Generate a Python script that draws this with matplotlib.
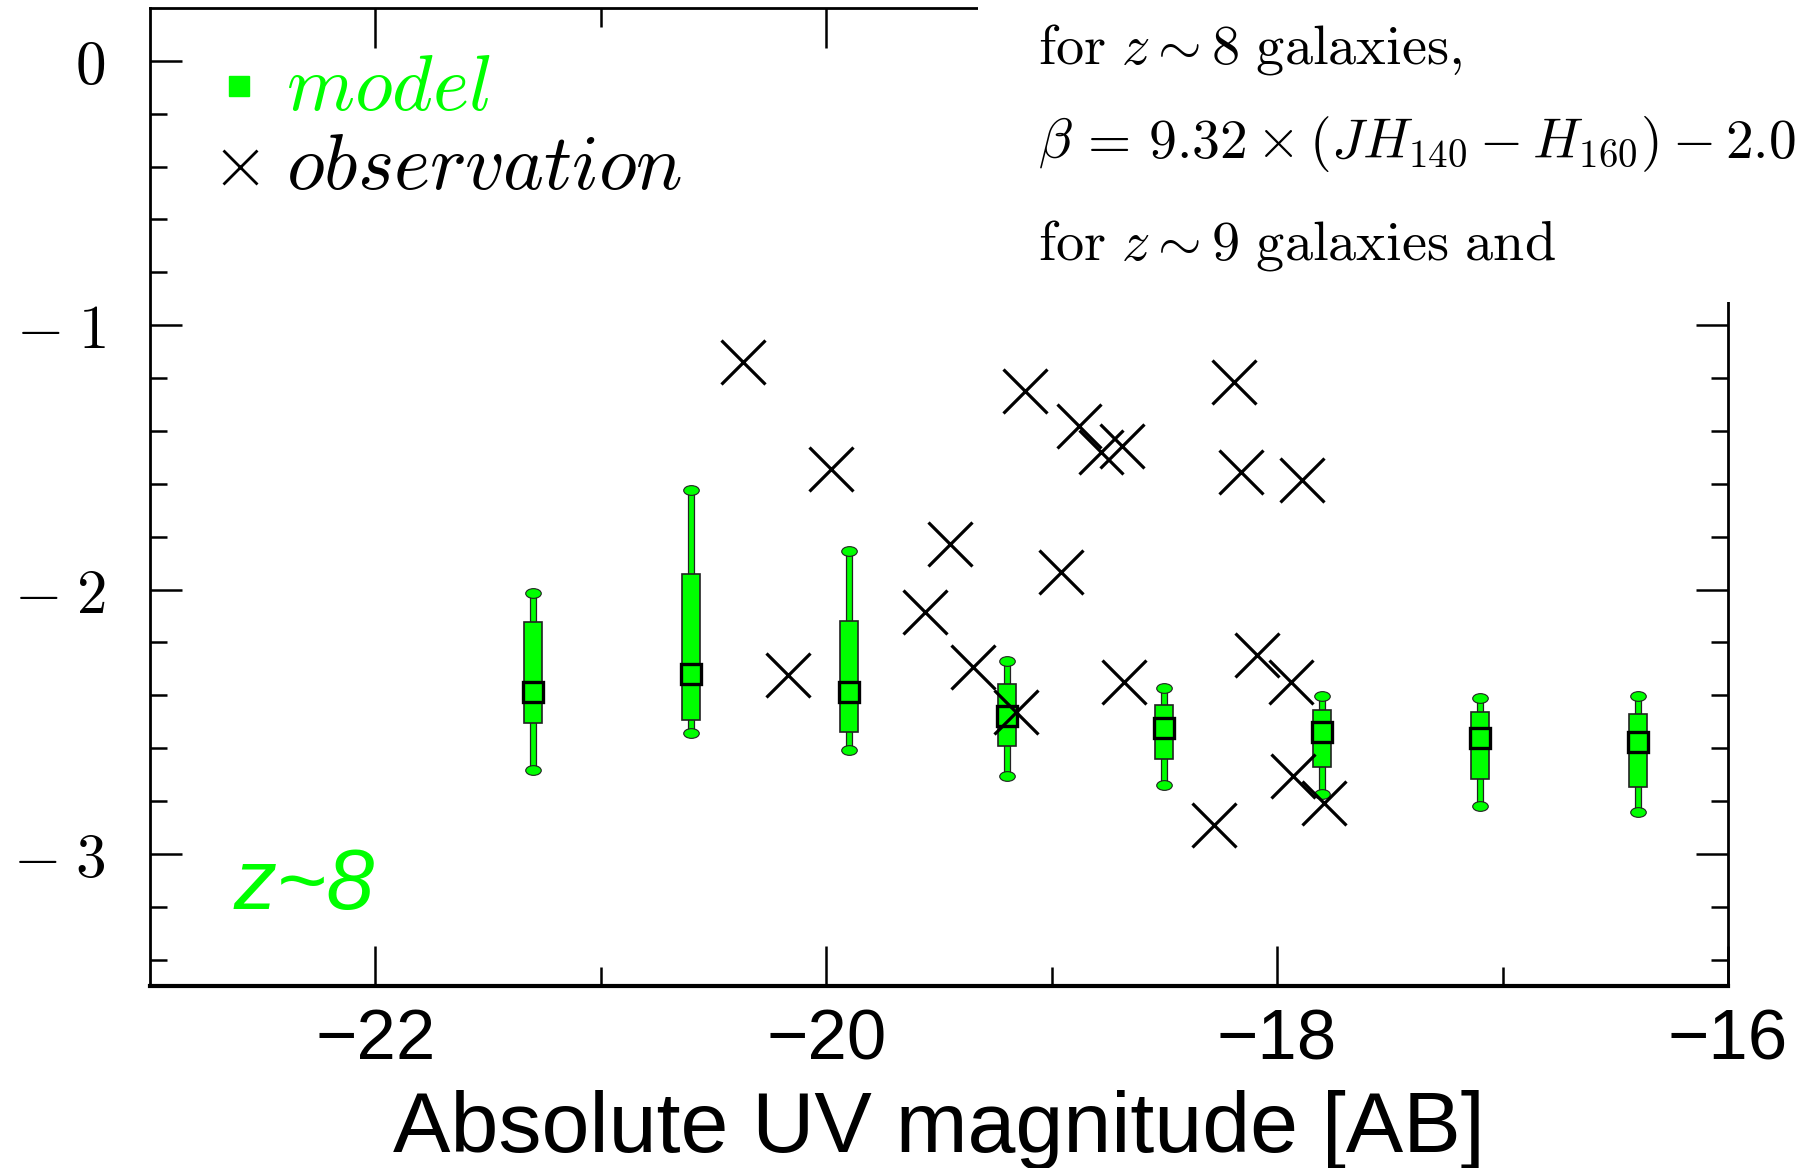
import matplotlib
matplotlib.use('Agg')
import matplotlib.pyplot as plt
from matplotlib.markers import MarkerStyle
from matplotlib.transforms import Affine2D
from matplotlib.patches import Rectangle

plt.rcParams['mathtext.fontset'] = 'cm'

# ---- data -------------------------------------------------------------
mag_bins = [-21.3, -20.6, -19.9, -19.2, -18.5, -17.8, -17.1, -16.4]
beta_median = [-2.386, -2.318, -2.386, -2.480, -2.524, -2.540, -2.560, -2.578]
beta_q_high = [-2.124, -1.942, -2.119, -2.358, -2.438, -2.457, -2.463, -2.472]
beta_q_low = [-2.505, -2.493, -2.539, -2.592, -2.640, -2.672, -2.716, -2.746]
beta_max = [-2.012, -1.622, -1.854, -2.270, -2.371, -2.403, -2.409, -2.403]
beta_min = [-2.681, -2.544, -2.606, -2.704, -2.739, -2.773, -2.818, -2.843]

obs_mag = [-20.37, -20.17, -19.98, -19.45, -19.56, -19.35, -19.16, -19.12,
           -18.96, -18.88, -18.78, -18.69, -18.68, -18.28, -18.19, -18.16,
           -18.09, -17.94, -17.89, -17.93, -17.79]
obs_beta = [-1.141, -2.325, -1.546, -1.828, -2.085, -2.292, -2.463, -1.249,
            -1.933, -1.380, -1.480, -1.458, -2.349, -2.890, -1.215, -1.554,
            -2.248, -2.349, -1.585, -2.704, -2.806]

x_ticks = [-22, -20, -18, -16]
x_ticklabels = ['\u221222', '\u221220', '\u221218', '\u221216']
y_ticks = [0, -1, -2, -3]
y_ticklabels = [r'$0$', r'$-\;1$', r'$-\;2$', r'$-\;3$']

GREEN = '#00ff00'
SANS = ['Liberation Sans', 'DejaVu Sans']

# ---- figure -----------------------------------------------------------
fig = plt.figure(figsize=(18.09, 11.68), dpi=100)
ax = fig.add_axes([0.0829, 0.1558, 0.8723, 0.8374])
ax.set_xlim(-23, -16)
ax.set_ylim(-3.5, 0.2)

# whiskers
ax.vlines(mag_bins, beta_min, beta_max, color='#222222', lw=5.2, zorder=2)
ax.vlines(mag_bins, beta_min, beta_max, color=GREEN, lw=3.4, zorder=2.1)
cap = MarkerStyle('o', transform=Affine2D().scale(1.6, 1.0))
ax.plot(mag_bins, beta_max, ls='none', marker=cap, ms=7, mfc=GREEN,
        mec='#222222', mew=0.8, zorder=2.2)
ax.plot(mag_bins, beta_min, ls='none', marker=cap, ms=7, mfc=GREEN,
        mec='#222222', mew=0.8, zorder=2.2)
# boxes
heights = [h - l for h, l in zip(beta_q_high, beta_q_low)]
ax.bar(mag_bins, heights, bottom=beta_q_low, width=0.08, color=GREEN,
       edgecolor='#222222', linewidth=1.2, zorder=3)
# medians
ax.plot(mag_bins, beta_median, ls='none', marker='s', ms=15, mfc=GREEN,
        mec='black', mew=2.4, zorder=4)

# observations
ax.plot(obs_mag, obs_beta, ls='none', marker='x', ms=31, mew=2.3,
        color='black', zorder=5)

# ---- axes styling ------------------------------------------------------
for s in ax.spines.values():
    s.set_linewidth(2.0)
ax.spines['bottom'].set_linewidth(3.0)
ax.set_xticks(x_ticks)
ax.set_xticklabels(x_ticklabels, fontsize=51, family=SANS)
ax.set_xticks([-21, -19, -17], minor=True)
ax.set_yticks(y_ticks)
ax.set_yticklabels(y_ticklabels, fontsize=44)
ax.set_yticks([v / 10 for v in range(-34, 2, 2) if v % 10 != 0], minor=True)
ax.tick_params(which='both', direction='in', top=True, right=True, width=1.8)
ax.tick_params(axis='x', which='major', length=29, pad=16)
ax.tick_params(axis='x', which='minor', length=14)
ax.tick_params(axis='y', which='major', length=23, pad=32)
ax.tick_params(axis='y', which='minor', length=12)
ax.set_xlabel('Absolute UV magnitude [AB]', fontsize=62, family=SANS,
              labelpad=11)

# legend (manual)
ax.plot([0.0563], [0.9197], transform=ax.transAxes, marker='s', ms=15,
        color=GREEN, ls='none', clip_on=False)
ax.text(0.0862, 0.926, r'$\mathit{model}$', transform=ax.transAxes,
        color=GREEN, fontsize=56, va='center_baseline', ha='left')
ax.plot([0.0569], [0.8374], transform=ax.transAxes, marker='x', ms=24,
        mew=2.0, color='black', ls='none', clip_on=False)
ax.text(0.0862, 0.846, r'$\mathit{observation}$', transform=ax.transAxes,
        color='black', fontsize=56, va='center_baseline', ha='left')

ax.text(0.0532, 0.0787, r'z~8', transform=ax.transAxes, color=GREEN,
        fontsize=62, style='italic', ha='left', va='baseline', family=SANS)

# white text panel on top right
fig.patches.append(Rectangle((0.5406, 0.7414), 0.5, 0.3, transform=fig.transFigure,
                             facecolor='white', edgecolor='none', zorder=10))
fig.text(0.5738, 0.9456, r'$\mathrm{for}\ z \sim 8\ \mathrm{galaxies,}$',
         fontsize=40.5, va='baseline', ha='left', zorder=11)
fig.text(0.5738, 0.8647,
         r'$\beta\,=\,9.32 \times (JH_{140} - H_{160}) - 2.0$',
         fontsize=40, va='baseline', ha='left', zorder=11)
fig.text(0.5738, 0.7777, r'$\mathrm{for}\ z \sim 9\ \mathrm{galaxies\ and}$',
         fontsize=40.5, va='baseline', ha='left', zorder=11)

fig.savefig('out.png', dpi=100)
